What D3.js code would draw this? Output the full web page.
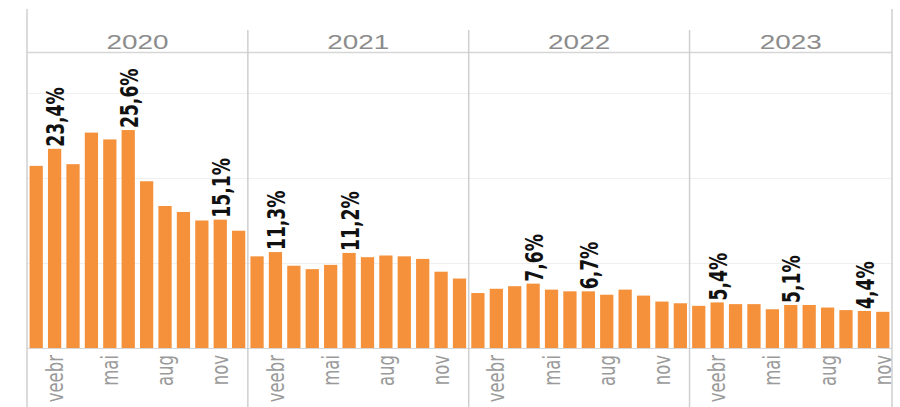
<!DOCTYPE html>
<html>
<head>
<meta charset="utf-8">
<script src="https://cdn.jsdelivr.net/npm/d3@7"></script>
<style>
  html, body { margin: 0; padding: 0; background: #fff; }
  svg { display: block; }
</style>
</head>
<body>
<svg id="chart" width="900" height="407"></svg>
<script>
// ---- data ----
const years = ["2020", "2021", "2022", "2023"];
const monthNames = ["jaan", "veebr", "märts", "apr", "mai", "juuni", "juuli", "aug", "sept", "okt", "nov", "dets"];
const tickMonths = ["veebr", "mai", "aug", "nov"];
const values2020 = [21.4, 23.4, 21.6, 25.3, 24.5, 25.6, 19.6, 16.7, 16.0, 15.0, 15.1, 13.8];
const values2021 = [10.8, 11.3, 9.7, 9.3, 9.8, 11.2, 10.7, 10.9, 10.8, 10.5, 9.0, 8.2];
const values2022 = [6.5, 7.0, 7.3, 7.6, 6.9, 6.7, 6.7, 6.3, 6.9, 6.2, 5.5, 5.3];
const values2023 = [5.0, 5.4, 5.2, 5.2, 4.6, 5.1, 5.1, 4.8, 4.5, 4.4, 4.3];
const labelled2020 = ["veebr", "juuni", "nov"];
const labelled2021 = ["veebr", "juuni"];
const labelled2022 = ["apr", "juuli"];
const labelled2023 = ["veebr", "juuni", "okt"];
const gridTicks = [10, 20, 30];

(function () {
// ---- build rows ----
const seriesByYear = [values2020, values2021, values2022, values2023];
const labelsByYear = [labelled2020, labelled2021, labelled2022, labelled2023];
const rows = [];
years.forEach((yr, i) => {
  seriesByYear[i].forEach((v, m) => {
    rows.push({ key: yr + "-" + m, year: yr, month: monthNames[m], value: v,
                labelled: labelsByYear[i].includes(monthNames[m]) });
  });
});

// ---- layout ----
const svg = d3.select("#chart");
const xLeft = 27, xRight = 892, yTop = 9, yBottom = 407;
const headerY = 52.5, dividerTop = 30;
const baseY = 348.5, maxY = 92.5;
const stretch = 1.33;

const x = d3.scaleBand().domain(rows.map(d => d.key)).range([xLeft, xRight])
  .paddingInner(0.28).paddingOuter(0.14);
const y = d3.scaleLinear().domain([0, 30]).range([baseY, maxY]);
const step = x.step();

// gridlines
svg.append("g").selectAll("line").data(gridTicks).join("line")
  .attr("x1", xLeft).attr("x2", xRight)
  .attr("y1", d => Math.round(y(d)) + 0.5).attr("y2", d => Math.round(y(d)) + 0.5)
  .attr("stroke", "#efefef").attr("stroke-width", 1);

// bars
svg.append("g").selectAll("rect").data(rows).join("rect")
  .attr("x", d => x(d.key)).attr("width", x.bandwidth())
  .attr("y", d => y(d.value)).attr("height", d => y(0) - y(d.value))
  .attr("fill", "#f5913b");

// baseline
svg.append("line").attr("x1", xLeft).attr("x2", xRight)
  .attr("y1", baseY).attr("y2", baseY).attr("stroke", "#d6d6d6");

// header line
svg.append("line").attr("x1", xLeft).attr("x2", xRight)
  .attr("y1", headerY).attr("y2", headerY).attr("stroke", "#d6d6d6").attr("stroke-width", 1.5);

// panel boundaries
const panelStarts = years.map((yr, i) => xLeft + i * 12 * step);
svg.append("line").attr("x1", xLeft).attr("x2", xLeft).attr("y1", yTop).attr("y2", yBottom)
  .attr("stroke", "#cfcfcf").attr("stroke-width", 1.5);
svg.append("line").attr("x1", xRight).attr("x2", xRight).attr("y1", yTop).attr("y2", yBottom)
  .attr("stroke", "#cfcfcf").attr("stroke-width", 1.5);
svg.append("g").selectAll("line").data(panelStarts.slice(1)).join("line")
  .attr("x1", d => d).attr("x2", d => d).attr("y1", dividerTop).attr("y2", yBottom)
  .attr("stroke", "#cfcfcf").attr("stroke-width", 1.5);

// year headers
svg.append("g").selectAll("text").data(years).join("text")
  .attr("transform", (d, i) => {
    const end = i < years.length - 1 ? panelStarts[i + 1] : xRight;
    const cx = (panelStarts[i] + end) / 2;
    return `translate(${cx},49) scale(${stretch},1)`;
  })
  .attr("text-anchor", "middle")
  .attr("font-family", "Liberation Sans, Arial, sans-serif")
  .attr("font-size", 21)
  .attr("fill", "#8c8c8c")
  .text(d => d);

// month tick labels
svg.append("g").selectAll("text").data(rows.filter(d => tickMonths.includes(d.month))).join("text")
  .attr("transform", d => `translate(${x(d.key) + x.bandwidth() / 2},355) scale(1.4,1) rotate(-90)`)
  .attr("text-anchor", "end")
  .attr("dy", "0.35em")
  .attr("font-family", "DejaVu Sans, sans-serif")
  .attr("font-size", 16.5)
  .attr("fill", "#9a9a9a")
  .text(d => d.month);

// value labels
const fmt = v => v.toFixed(1).replace(".", ",") + "%";
svg.append("g").selectAll("text").data(rows.filter(d => d.labelled)).join("text")
  .attr("transform", d => `translate(${x(d.key) + x.bandwidth() / 2 + 1},${y(d.value) - 2}) scale(1.4,1) rotate(-90)`)
  .attr("text-anchor", "start")
  .attr("dy", "0.36em")
  .attr("font-family", "DejaVu Sans, sans-serif")
  .attr("font-weight", "bold")
  .attr("font-size", 17.2)
  .attr("fill", "#111")
  .text(d => fmt(d.value));
})();
</script>
</body>
</html>
